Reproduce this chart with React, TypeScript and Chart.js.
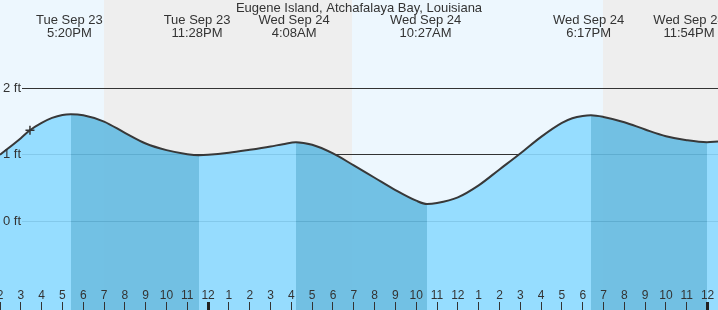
import React, { useEffect, useRef } from "react";
import { Chart, registerables } from "chart.js";

Chart.register(...registerables);

// ---- data (hours counted from Tue Sep 23 00:00) ----
const tideHours = [14, 15, 15.44, 16, 16.5, 17, 17.41156, 18, 19, 20, 21, 22, 23, 23.56198, 24, 25, 26, 27, 27.6, 28.22284, 29, 30, 31, 32, 33, 34, 34.51741, 35, 36, 37, 38, 39, 40, 41, 41.5, 42, 42.39763, 43, 44, 45, 46, 47, 47.97145, 48.5];
const tideFeet = [1.0, 1.25, 1.37, 1.48, 1.555, 1.6, 1.61, 1.595, 1.5, 1.33, 1.17, 1.07, 1.01, 0.995, 1.0, 1.03, 1.075, 1.125, 1.16, 1.19, 1.15, 1.02, 0.84, 0.655, 0.47, 0.31, 0.26, 0.275, 0.36, 0.54, 0.78, 1.02, 1.27, 1.48, 1.55, 1.585, 1.595, 1.57, 1.49, 1.38, 1.28, 1.22, 1.19, 1.2];

const nowHour = [15.44];
const nowFeet = [1.37];

const extremeHours = [17.333, 23.467, 28.133, 34.45, 42.283, 47.9];
const extremeDays = ["Tue Sep 23", "Tue Sep 23", "Wed Sep 24", "Wed Sep 24", "Wed Sep 24", "Wed Sep 24"];
const extremeTimes = ["5:20PM", "11:28PM", "4:08AM", "10:27AM", "6:17PM", "11:54PM"];

const nightStarts = [19.0, 42.98];
const nightEnds = [30.9, 48.5];

const hourTicks = [14, 15, 16, 17, 18, 19, 20, 21, 22, 23, 24, 25, 26, 27, 28, 29, 30, 31, 32, 33, 34, 35, 36, 37, 38, 39, 40, 41, 42, 43, 44, 45, 46, 47, 48];
const midnightTicks = [24, 48];
const depthTicks = [0, 1, 2];

const chartTitle = "Eugene Island, Atchafalaya Bay, Louisiana";

// ---- styles ----
const FONT = '"Liberation Sans", Arial, sans-serif';
const TEXT = "#333333";
const DAY = "#EDF7FE";
const NIGHT = "#EEEEEE";
const WATER_RISE = "rgba(140, 217, 255, 0.9)";
const WATER_FALL = "rgba(100, 186, 225, 0.9)";

const noPad = (s: any) => {
  s.paddingLeft = 0;
  s.paddingRight = 0;
  s.paddingTop = 0;
  s.paddingBottom = 0;
};

const dayNightPlugin = {
  id: "dayNight",
  beforeDraw(chart: any) {
    const { ctx, chartArea, scales } = chart;
    const x = scales.x;
    ctx.save();
    ctx.fillStyle = DAY;
    ctx.fillRect(0, 0, chart.width, chart.height);
    ctx.fillStyle = NIGHT;
    nightStarts.forEach((s, i) => {
      const x0 = Math.round(x.getPixelForValue(s));
      const x1 = Math.round(x.getPixelForValue(nightEnds[i]));
      ctx.fillRect(x0, chartArea.top, x1 - x0, chartArea.bottom - chartArea.top);
    });
    ctx.restore();
  },
};

const labelsPlugin = {
  id: "tideLabels",
  afterDraw(chart: any) {
    const { ctx, chartArea, scales } = chart;
    const x = scales.x;
    ctx.save();
    ctx.font = `13px ${FONT}`;
    ctx.fillStyle = TEXT;
    ctx.textAlign = "center";
    ctx.textBaseline = "alphabetic";
    ctx.fillText(chartTitle, chart.width / 2, 12);
    extremeHours.forEach((h, i) => {
      const px = Math.min(x.getPixelForValue(h), chartArea.right - 29);
      ctx.fillText(extremeDays[i], px, 24);
      ctx.fillText(extremeTimes[i], px, 37);
    });
    ctx.restore();
  },
};

export default function App() {
  const ref = useRef<HTMLCanvasElement>(null);

  useEffect(() => {
    if (!ref.current) return;
    const chart = new Chart(ref.current, {
      type: "line",
      data: {
        datasets: [
          {
            label: "now",
            data: nowHour.map((h, i) => ({ x: h, y: nowFeet[i] })),
            showLine: false,
            pointStyle: "cross",
            pointRadius: 4.5,
            pointBorderWidth: 1.5,
            pointBorderColor: "#333",
            borderColor: "#333",
            fill: false,
            order: 0,
          },
          {
            label: "tide",
            data: tideHours.map((h, i) => ({ x: h, y: tideFeet[i] })),
            borderColor: "#383838",
            borderWidth: 2,
            pointRadius: 0,
            cubicInterpolationMode: "monotone",
            fill: "start",
            backgroundColor: WATER_RISE,
            segment: {
              backgroundColor: (ctx: any) =>
                ctx.p0.parsed.y > ctx.p1.parsed.y ? WATER_FALL : WATER_RISE,
            },
            order: 1,
          },
        ],
      },
      options: {
        animation: false,
        responsive: false,
        devicePixelRatio: 1,
        layout: { padding: 0, autoPadding: false },
        plugins: {
          legend: { display: false },
          tooltip: { enabled: false },
          title: { display: false },
        },
        scales: {
          x: {
            type: "linear",
            position: "bottom",
            min: 14,
            max: 48.5,
            afterFit: (s: any) => {
              s.height = 0;
              noPad(s);
            },
            afterBuildTicks: (s: any) => {
              s.ticks = hourTicks.map((v) => ({ value: v }));
            },
            border: { display: false },
            grid: {
              display: true,
              z: 1,
              drawOnChartArea: false,
              drawTicks: true,
              tickLength: -8,
              tickColor: (c: any) => (c.tick && midnightTicks.includes(c.tick.value) ? "#222" : "#333"),
              tickWidth: (c: any) => (c.tick && midnightTicks.includes(c.tick.value) ? 3 : 1),
            },
            ticks: {
              z: 1,
              mirror: true,
              autoSkip: false,
              maxRotation: 0,
              minRotation: 0,
              padding: 7,
              color: TEXT,
              font: { family: FONT, size: 12 },
              callback: (v: any) => {
                const h = Number(v) % 12;
                return String(h === 0 ? 12 : h);
              },
            },
          },
          y: {
            type: "linear",
            position: "left",
            min: -1.334,
            max: 3.328,
            afterFit: (s: any) => {
              s.width = 0;
              noPad(s);
            },
            afterBuildTicks: (s: any) => {
              s.ticks = depthTicks.map((v) => ({ value: v }));
            },
            border: { display: false, dash: [0, 22, 2000, 0] },
            grid: { color: "#333", lineWidth: 1, drawTicks: false },
            ticks: { display: false },
          },
          yLabels: {
            type: "linear",
            position: "left",
            min: -1.334,
            max: 3.328,
            afterFit: (s: any) => {
              s.width = 0;
              noPad(s);
            },
            afterBuildTicks: (s: any) => {
              s.ticks = depthTicks.map((v) => ({ value: v }));
            },
            border: { display: false },
            grid: { display: false, drawTicks: false },
            ticks: {
              z: 1,
              mirror: true,
              padding: 3,
              color: TEXT,
              font: { family: FONT, size: 13 },
              callback: (v: any) => `${v} ft`,
            },
          },
        },
      },
      plugins: [dayNightPlugin, labelsPlugin],
    } as any);
    return () => chart.destroy();
  }, []);

  return (
    <div style={{ position: "absolute", left: 0, top: 0, width: 718, height: 310 }}>
      <canvas ref={ref} width={718} height={310} style={{ display: "block" }} />
    </div>
  );
}
